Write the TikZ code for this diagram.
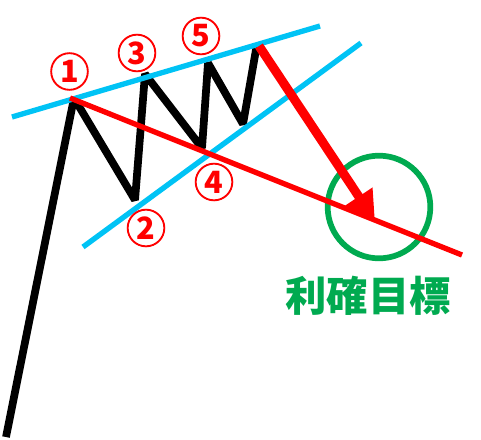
\documentclass[tikz,border=0pt]{standalone}
\usepackage{fontspec}
\newfontfamily\cjk{Noto Sans CJK JP}
\usetikzlibrary{arrows.meta}

\definecolor{wavecolor}{RGB}{0, 0, 0}
\definecolor{channelcolor}{RGB}{0, 195, 245}
\definecolor{necklinecolor}{RGB}{255, 0, 0}
\definecolor{targetcolor}{RGB}{0, 170, 80}

\tikzset{
    wave/.style={line width=5.8pt, wavecolor, line join=bevel},
    channel/.style={line width=4pt, channelcolor},
    neckline/.style={line width=4pt, necklinecolor},
    fallarrow/.style={line width=6.8pt, necklinecolor, -{Triangle[length=22pt, width=23pt]}},
    pointlabel/.style={circle, draw=necklinecolor, line width=1.4pt, minimum size=27.5pt, inner sep=0pt,
        text=necklinecolor, font=\cjk\bfseries\fontsize{23}{23}\selectfont},
}

\begin{document}
\begin{tikzpicture}[x=0.75pt, y=-0.75pt]

    \useasboundingbox (0,0) rectangle (481,439);

    % ==========================================
    % --- Wave points ---
    % ==========================================
    \coordinate (start) at (6, 437);
    \coordinate (top1) at (74, 98);
    \coordinate (low2) at (135, 200);
    \coordinate (top3) at (145, 74);
    \coordinate (low4) at (202, 148);
    \coordinate (top5) at (208, 63);
    \coordinate (low6) at (243, 124);
    \coordinate (top7) at (257, 44);

    % Channel line ends
    \coordinate (upL) at (12, 117);
    \coordinate (upR) at (320, 26);
    \coordinate (loL) at (83, 247);
    \coordinate (loR) at (361, 43);

    % Neckline ends and target
    \coordinate (neckL) at (70, 98);
    \coordinate (neckR) at (462, 255);
    \coordinate (arrowS) at (259, 46);
    \coordinate (arrowE) at (375, 221);

    % Zigzag price wave
    \draw[wave] (start) -- (top1) -- (low2) -- (top3) -- (low4) -- (top5) -- (low6) -- (top7);

    % Channel lines (Blue)
    \draw[channel] (upL) -- (upR);
    \draw[channel] (loL) -- (loR);

    % Target circle (Green)
    \node[circle, draw=targetcolor, line width=4.3pt, minimum size=77pt, inner sep=0pt] (target) at (379, 207) {};

    % Neckline and falling move (Red)
    \draw[neckline] (neckL) -- (neckR);
    \draw[fallarrow] (arrowS) -- (arrowE);

    % Numbered points
    \node[pointlabel] (n1) at (69.5, 71.5) {1};
    \node[pointlabel] (n2) at (146, 228) {2};
    \node[pointlabel] (n3) at (137, 53) {3};
    \node[pointlabel] (n4) at (214, 182) {4};
    \node[pointlabel] (n5) at (201, 36) {5};

    % Label
    \node[text=targetcolor, font=\cjk\bfseries\fontsize{31}{31}\selectfont] (goal) at (368, 296) {利確目標};

\end{tikzpicture}
\end{document}
